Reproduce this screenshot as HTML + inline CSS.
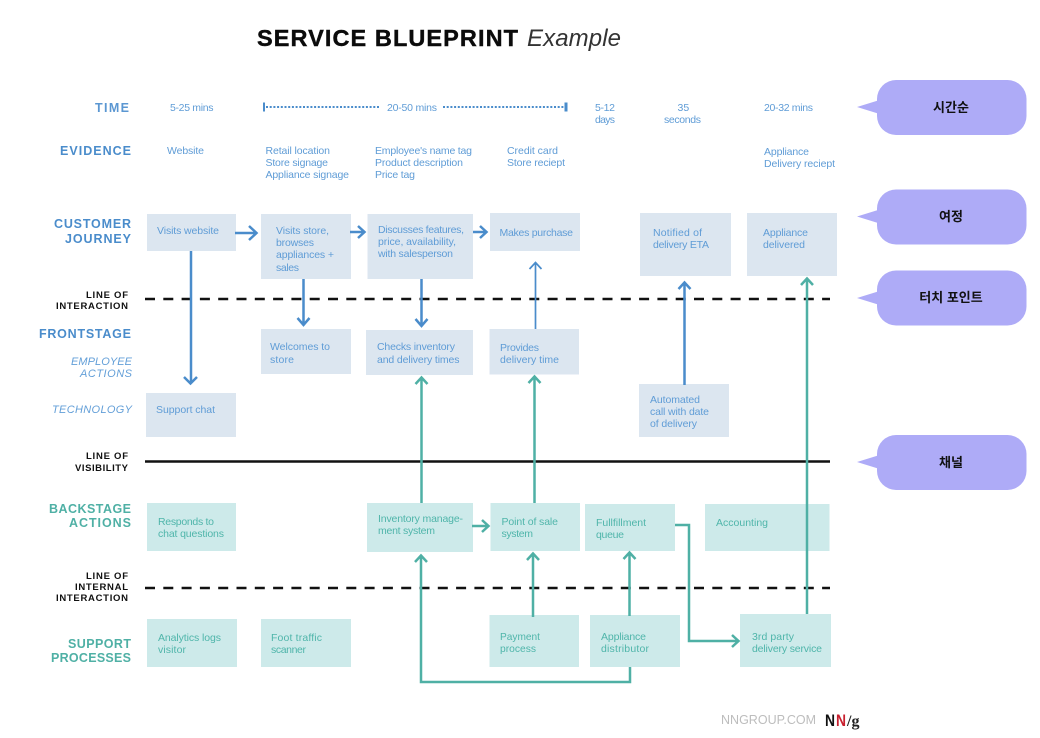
<!DOCTYPE html>
<html lang="en"><head><meta charset="utf-8"><title>Service Blueprint Example</title>
<style>
html,body{margin:0;padding:0;background:#fff;width:1040px;height:738px;overflow:hidden}
svg{display:block;font-family:"Liberation Sans","Noto Sans CJK KR",sans-serif;filter:blur(.35px)}
.b{fill:#dce6f0}.t{fill:#cdeaea}
.bt text{fill:#5f9cd6;font-size:10.5px}
.tt text{fill:#4fb5aa;font-size:10.5px}
.lb text{font-weight:bold;font-size:12.5px}
.k text{font-weight:bold;font-size:9.5px;fill:#111}
.ar{fill:none;stroke-linecap:butt;stroke-linejoin:miter}
.ba{stroke:#4a8ccb;stroke-width:2.5}
.ta{stroke:#4fb0a5;stroke-width:2.5}
.c{fill:#aeabf7}
.ct{font-weight:bold;font-size:13px;text-anchor:middle;fill:#111;font-family:"Liberation Sans","Noto Sans CJK KR",sans-serif}
</style></head><body>
<svg width="1040" height="738" viewBox="0 0 1040 738" xmlns="http://www.w3.org/2000/svg">
<rect width="1040" height="738" fill="#fff"/>
<text x="257" y="46" font-size="23.500" font-weight="bold" fill="#0b0b0b" stroke="#0b0b0b" stroke-width=".4" textLength="261" lengthAdjust="spacing">SERVICE BLUEPRINT</text>
<text x="527" y="46" font-size="24" font-style="italic" fill="#333" textLength="94" lengthAdjust="spacing">Example</text>

<!-- boxes -->
<g class="b">
<rect x="147" y="214" width="89" height="37"/><rect x="261" y="214" width="90" height="65"/><rect x="367.500" y="214" width="105.500" height="65"/><rect x="490" y="213" width="90" height="38"/><rect x="640" y="213" width="91" height="63"/><rect x="747" y="213" width="90" height="63"/>
<rect x="261" y="329" width="90" height="45"/><rect x="366" y="330" width="107" height="45"/><rect x="489.500" y="329" width="89.500" height="45.500"/><rect x="146" y="393" width="90" height="44"/><rect x="639" y="384" width="90" height="53"/>
</g>
<g class="t">
<rect x="147" y="503" width="89" height="48"/><rect x="367" y="503" width="106" height="49"/><rect x="490.500" y="503" width="89.500" height="48"/><rect x="585" y="504" width="90" height="47"/><rect x="705" y="504" width="124.500" height="47"/>
<rect x="147" y="619" width="90" height="48"/><rect x="261" y="619" width="90" height="48"/><rect x="489.500" y="615" width="89.500" height="52"/><rect x="590" y="615" width="90" height="52"/><rect x="740" y="614" width="91" height="53"/>
</g>

<!-- lines -->
<g fill="none" stroke="#111">
<path d="M145 299H830" stroke-width="2.500" stroke-dasharray="10 8.300"/>
<path d="M145 461.500H830" stroke-width="2.500"/>
<path d="M145 588H830" stroke-width="2.500" stroke-dasharray="10 8.300"/>
</g>

<!-- time -->
<g fill="none" stroke="#4a8ccb">
<path d="M266 107H380M443 107H565" stroke-width="2" stroke-dasharray="2 1.700"/>
<path d="M264 102.500V111.500" stroke-width="2"/>
<path d="M566 102.500V111.500" stroke-width="3"/>
</g>

<!-- blue arrows -->
<g class="ar ba">
<path d="M235 233H256M249 226L256.500 233L249 240"/>
<path d="M350 232H364M358 226L364.500 232L358 238"/>
<path d="M473 232H486M480 226L486.500 232L480 238"/>
<path d="M191 251V383M184 377L190.500 383.500L197 377"/>
<path d="M303.500 279V324M297.500 318L303.500 325L309.500 318"/>
<path d="M421.500 279V325M415.500 319L421.500 326L427.500 319"/>
<path d="M535.500 329V263M529.500 269L535.500 262.500L541.500 269" stroke-width="1.700"/>
<path d="M684.500 385V283M678.500 289L684.500 282.500L690.500 289"/>
</g>
<!-- teal arrows -->
<g class="ar ta">
<path d="M421.500 503V378M415.500 384L421.500 377.500L427.500 384"/>
<path d="M534.500 503V377M528.500 383L534.500 376.500L540.500 383"/>
<path d="M630 667V682H421V556M415 562L421 555.500L427 562"/>
<path d="M472 526H488M482 520L488.500 526L482 532"/>
<path d="M533 617V554M527 560L533 553.500L539 560"/>
<path d="M629.500 616V553M623.500 559L629.500 552.500L635.500 559"/>
<path d="M675 525H689V641H738M732 635L738.500 641L732 647"/>
<path d="M807 614V279M801 285L807 278.500L813 285"/>
</g>

<!-- row labels -->
<g class="lb">
<text x="95" y="112" fill="#5b97d2" textLength="34">TIME</text>
<text x="60" y="155" fill="#4a8ccb" textLength="71">EVIDENCE</text>
<text x="54" y="228" fill="#4a8ccb" textLength="77">CUSTOMER</text>
<text x="65" y="243" fill="#4a8ccb" textLength="66">JOURNEY</text>
<text x="39" y="338" fill="#4a8ccb" textLength="92">FRONTSTAGE</text>
<text x="49" y="513" fill="#4fb0a5" textLength="82">BACKSTAGE</text>
<text x="69" y="527" fill="#4fb0a5" textLength="62">ACTIONS</text>
<text x="68" y="648" fill="#4fb0a5" textLength="63">SUPPORT</text>
<text x="51" y="662" fill="#4fb0a5" textLength="80">PROCESSES</text>
</g>
<g font-style="italic" font-size="11" fill="#639fd8">
<text x="71" y="365" textLength="61">EMPLOYEE</text><text x="80" y="377" textLength="52">ACTIONS</text><text x="52" y="413" textLength="80">TECHNOLOGY</text>
</g>
<g class="k">
<text x="86" y="298" textLength="42">LINE OF</text><text x="56" y="309" textLength="72">INTERACTION</text>
<text x="86" y="459" textLength="42">LINE OF</text><text x="75" y="471" textLength="53">VISIBILITY</text>
<text x="86" y="579" textLength="42">LINE OF</text><text x="75" y="590" textLength="53">INTERNAL</text><text x="56" y="601" textLength="72">INTERACTION</text>
</g>

<!-- blue text -->
<g class="bt">
<text x="170" y="111" textLength="43.500">5-25 mins</text>
<text x="387" y="111" textLength="50">20-50 mins</text>
<text x="595" y="111" textLength="20">5-12</text>
<text x="595" y="123" textLength="20">days</text>
<text x="677.500" y="111">35</text>
<text x="664" y="123" textLength="37">seconds</text>
<text x="764" y="111" textLength="49">20-32 mins</text>
<text x="167" y="154" textLength="37">Website</text>
<text x="265.500" y="154" textLength="64.500">Retail location</text>
<text x="265.500" y="166" textLength="62.500">Store signage</text>
<text x="265.500" y="178" textLength="83.500">Appliance signage</text>
<text x="375" y="154" textLength="97">Employee's name tag</text>
<text x="375" y="166" textLength="88">Product description</text>
<text x="375" y="178" textLength="40">Price tag</text>
<text x="507" y="154" textLength="51">Credit card</text>
<text x="507" y="166" textLength="58">Store reciept</text>
<text x="764" y="155" textLength="45">Appliance</text>
<text x="764" y="167" textLength="71">Delivery reciept</text>
<text x="157" y="234" textLength="62">Visits website</text>
<text x="276" y="234" textLength="53">Visits store,</text>
<text x="276" y="246" textLength="38">browses</text>
<text x="276" y="258" textLength="58">appliances +</text>
<text x="276" y="271" textLength="23">sales</text>
<text x="378" y="233" textLength="86">Discusses features,</text>
<text x="378" y="245" textLength="78">price, availability,</text>
<text x="378" y="257" textLength="75">with salesperson</text>
<text x="499.500" y="236" textLength="73.500">Makes purchase</text>
<text x="653" y="236" textLength="49">Notified of</text>
<text x="653" y="248" textLength="56">delivery ETA</text>
<text x="763" y="236" textLength="45">Appliance</text>
<text x="763" y="248" textLength="42">delivered</text>
<text x="270" y="350" textLength="60">Welcomes to</text>
<text x="270" y="363" textLength="24">store</text>
<text x="377" y="350" textLength="78">Checks inventory</text>
<text x="377" y="363" textLength="82.500">and delivery times</text>
<text x="500" y="351" textLength="39">Provides</text>
<text x="500" y="363" textLength="59">delivery time</text>
<text x="156" y="413" textLength="59">Support chat</text>
<text x="650" y="403" textLength="50">Automated</text>
<text x="650" y="415" textLength="59">call with date</text>
<text x="650" y="427" textLength="47">of delivery</text>
</g>
<!-- teal text -->
<g class="tt">
<text x="158" y="525" textLength="56">Responds to</text>
<text x="158" y="537" textLength="66">chat questions</text>
<text x="378" y="522" textLength="85">Inventory manage-</text>
<text x="378" y="534" textLength="57">ment system</text>
<text x="501.500" y="525" textLength="56.500">Point of sale</text>
<text x="501.500" y="537" textLength="31.500">system</text>
<text x="596" y="526" textLength="50">Fullfillment</text>
<text x="596" y="538" textLength="28">queue</text>
<text x="716" y="526" textLength="52">Accounting</text>
<text x="158" y="641" textLength="63">Analytics logs</text>
<text x="158" y="653" textLength="28">visitor</text>
<text x="271" y="641" textLength="51">Foot traffic</text>
<text x="271" y="653" textLength="35">scanner</text>
<text x="500" y="640" textLength="40" lengthAdjust="spacingAndGlyphs">Payment</text>
<text x="500" y="652" textLength="36" lengthAdjust="spacingAndGlyphs">process</text>
<text x="601" y="640" textLength="45">Appliance</text>
<text x="601" y="652" textLength="48">distributor</text>
<text x="752" y="640" textLength="42">3rd party</text>
<text x="752" y="652" textLength="70">delivery service</text>
</g>

<!-- callouts -->
<g class="c">
<rect x="877" y="80" width="149.500" height="55" rx="19"/><path d="M878 100.500L857 107L878 113.500Z"/>
<rect x="877" y="189.500" width="149.500" height="55" rx="19"/><path d="M878 210L857 216.500L878 223Z"/>
<rect x="877" y="270.500" width="149.500" height="55" rx="19"/><path d="M878 291.500L857 298L878 304.500Z"/>
<rect x="877" y="435" width="149.500" height="55" rx="19"/><path d="M878 455.500L857 462L878 468.500Z"/>
</g>
<text class="ct" x="951" y="112">시간순</text>
<text class="ct" x="951" y="221">여정</text>
<text class="ct" x="951" y="302">터치 포인트</text>
<text class="ct" x="951" y="467">채널</text>

<!-- footer -->
<text x="721" y="724" font-size="12.500" fill="#bdbdbd" textLength="95">NNGROUP.COM</text>
<text x="825" y="726" font-size="17" font-weight="bold" fill="#111" textLength="10" lengthAdjust="spacingAndGlyphs">N</text>
<text x="836" y="726" font-size="17" font-weight="bold" fill="#c8202f" textLength="10" lengthAdjust="spacingAndGlyphs">N</text>
<text x="847" y="726" font-size="16" font-weight="bold" font-family="Liberation Serif,serif" fill="#222">/g</text>
</svg>
</body></html>
